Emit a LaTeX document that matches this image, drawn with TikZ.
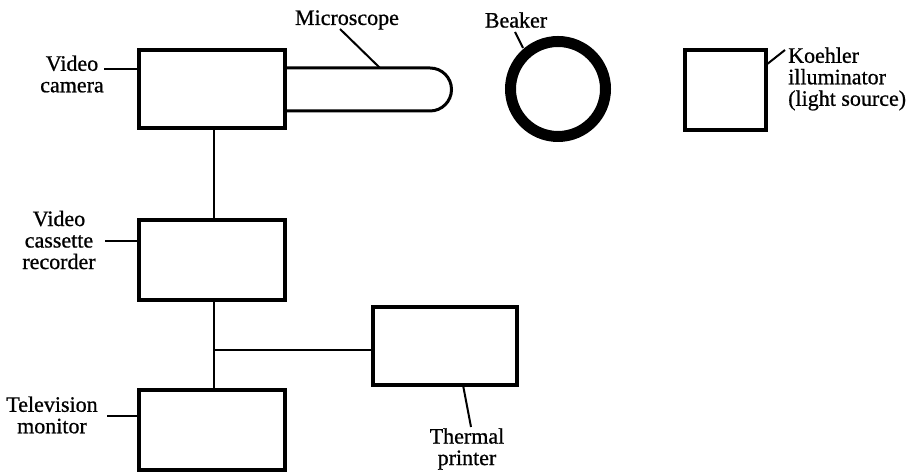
\documentclass[tikz,border=0pt]{standalone}
\usepackage{fontspec}
\setmainfont{Liberation Serif}
\newfontfamily\lblfont[RawFeature={embolden=0.8}]{Liberation Serif}
\begin{document}
\begin{tikzpicture}[x=1pt,y=1pt,
  box/.style={draw, line width=3.4pt, inner sep=0pt},
  wire/.style={line width=2.6pt},
  leader/.style={line width=2pt},
  lbl/.style={align=center, inner sep=0pt, font=\lblfont\fontsize{22}{21.5}\selectfont},
  lbll/.style={align=left, inner sep=0pt, font=\lblfont\fontsize{22}{21.5}\selectfont}]
\useasboundingbox (0,0) rectangle (910,473);
% boxes
\node[box, minimum width=146pt, minimum height=78pt] (cam) at (212,384) {};
\node[box, minimum width=146pt, minimum height=80pt] (vcr) at (212,213) {};
\node[box, minimum width=146pt, minimum height=80pt] (tv) at (212,43) {};
\node[box, minimum width=144pt, minimum height=78pt] (prn) at (445,127) {};
\node[box, minimum width=81pt, minimum height=80pt] (koe) at (725.5,383) {};
% microscope
\draw[line width=3pt] (cam.east |- 0,405) -- (430,405) arc (90:-90:21.5) -- (cam.east |- 0,362);
% beaker
\draw[line width=11pt] (558,384) circle[radius=47.5];
\coordinate (beak) at (558,384);
% connectors
\coordinate (j) at (214,123);
\draw[wire] (214,0 |- cam.south) -- (214,0 |- vcr.north);
\draw[wire] (214,0 |- vcr.south) -- (214,0 |- tv.north);
\draw[wire] (j) -- (j -| prn.west);
% labels
\node[lbl] (lmic) at (347,453) {Microscope};
\node[lbl] (lcam) at (72,399) {Video\\camera};
\node[lbl] (lbeak) at (516,453) {Beaker};
\node[lbll, anchor=west] (lkoe) at (788,394) {Koehler\\illuminator\\(light source)};
\node[lbl] (lvcr) at (59,233) {Video\\cassette\\recorder};
\node[lbl] (ltv) at (52,58) {Television\\monitor};
\node[lbl] (lprn) at (467,24) {Thermal\\printer};
% leaders
\coordinate (a1) at (340,444); \coordinate (a2) at (380,405);
\draw[leader] (a1) -- (a2);
\coordinate (b1) at (104,404);
\draw[leader] (b1) -- (b1 -| cam.west);
\coordinate (c1) at (515,441); \coordinate (c2) at (523,425);
\draw[leader] (c1) -- (c2);
\coordinate (d1) at (766,408); \coordinate (d2) at (785,423);
\draw[leader] (d1) -- (d2);
\coordinate (e1) at (105,232);
\draw[leader] (e1) -- (e1 -| vcr.west);
\coordinate (f1) at (107,57);
\draw[leader] (f1) -- (f1 -| tv.west);
\coordinate (g1) at (463,88); \coordinate (g2) at (471,46);
\draw[leader] (g1) -- (g2);
\end{tikzpicture}
\end{document}
